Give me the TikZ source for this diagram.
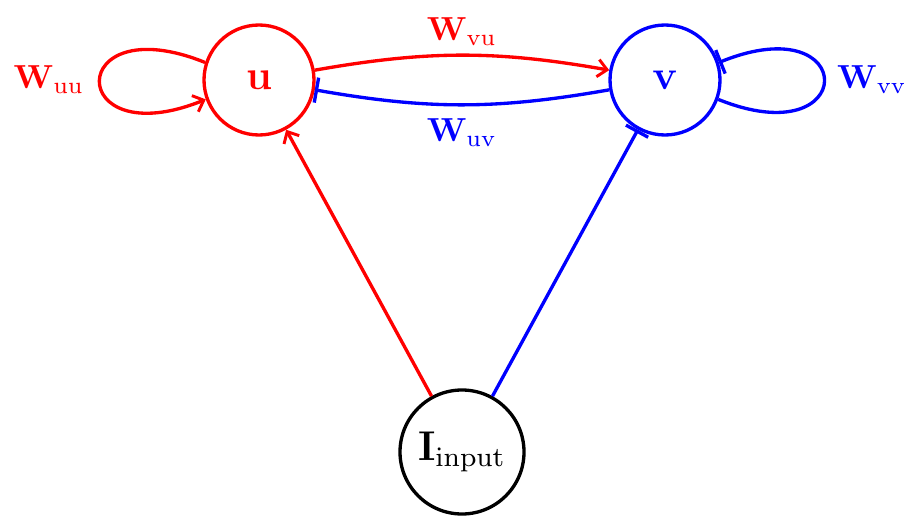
\documentclass[tikz,border=0pt]{standalone}
\usetikzlibrary{arrows.meta}
\newcommand{\bigtxt}[1]{\scalebox{2.5}{#1}}
\newcommand{\nodetxt}[1]{\scalebox{2.6}{#1}}
\begin{document}
\begin{tikzpicture}[x=0.75pt,y=0.75pt,
  neuron/.style={circle,draw,line width=2.5pt,inner sep=0pt},
  edge/.style={line width=2.5pt},
  exc/.style={-{Straight Barb[length=7pt,width=13pt,line width=2.2pt]}},
  inh/.style={-{Bar[width=19pt,line width=2.5pt]}},
  lab/.style={inner sep=0pt}]
\useasboundingbox (0,0) rectangle (905,515);
\node[neuron,red,minimum size=82.5pt] (u) at (259,435) {\nodetxt{\large$\mathbf{u}$}};
\node[neuron,blue,minimum size=82.5pt] (v) at (665,435) {\nodetxt{\large$\mathbf{v}$}};
\node[neuron,black,minimum size=93pt] (in) at (462,63) {\nodetxt{\large$\mathbf{I}_{\mathrm{input}}$}};
% u -> v
\draw[edge,red,exc] (u) to[bend left=10] (v);
\draw[edge,blue,inh] (v) to[bend left=10] (u);
% self loops
\draw[edge,red,exc] (u.162) .. controls +(158:152) and +(202:152) .. (u.200);
\draw[edge,blue,inh] (v.-20) .. controls +(-22:152) and +(22:152) .. (v.18);
% input
\draw[edge,red,exc] (in) -- (u);
\draw[edge,blue,inh] (in) -- (v);
% labels
\node[lab,red] (wvu) at (462,483) {\bigtxt{$\mathbf{W}_{\mathrm{vu}}$}};
\node[lab,blue] (wuv) at (462,382) {\bigtxt{$\mathbf{W}_{\mathrm{uv}}$}};
\node[lab,red] (wuu) at (49,435) {\bigtxt{$\mathbf{W}_{\mathrm{uu}}$}};
\node[lab,blue] (wvv) at (872,435) {\bigtxt{$\mathbf{W}_{\mathrm{vv}}$}};
\end{tikzpicture}
\end{document}
